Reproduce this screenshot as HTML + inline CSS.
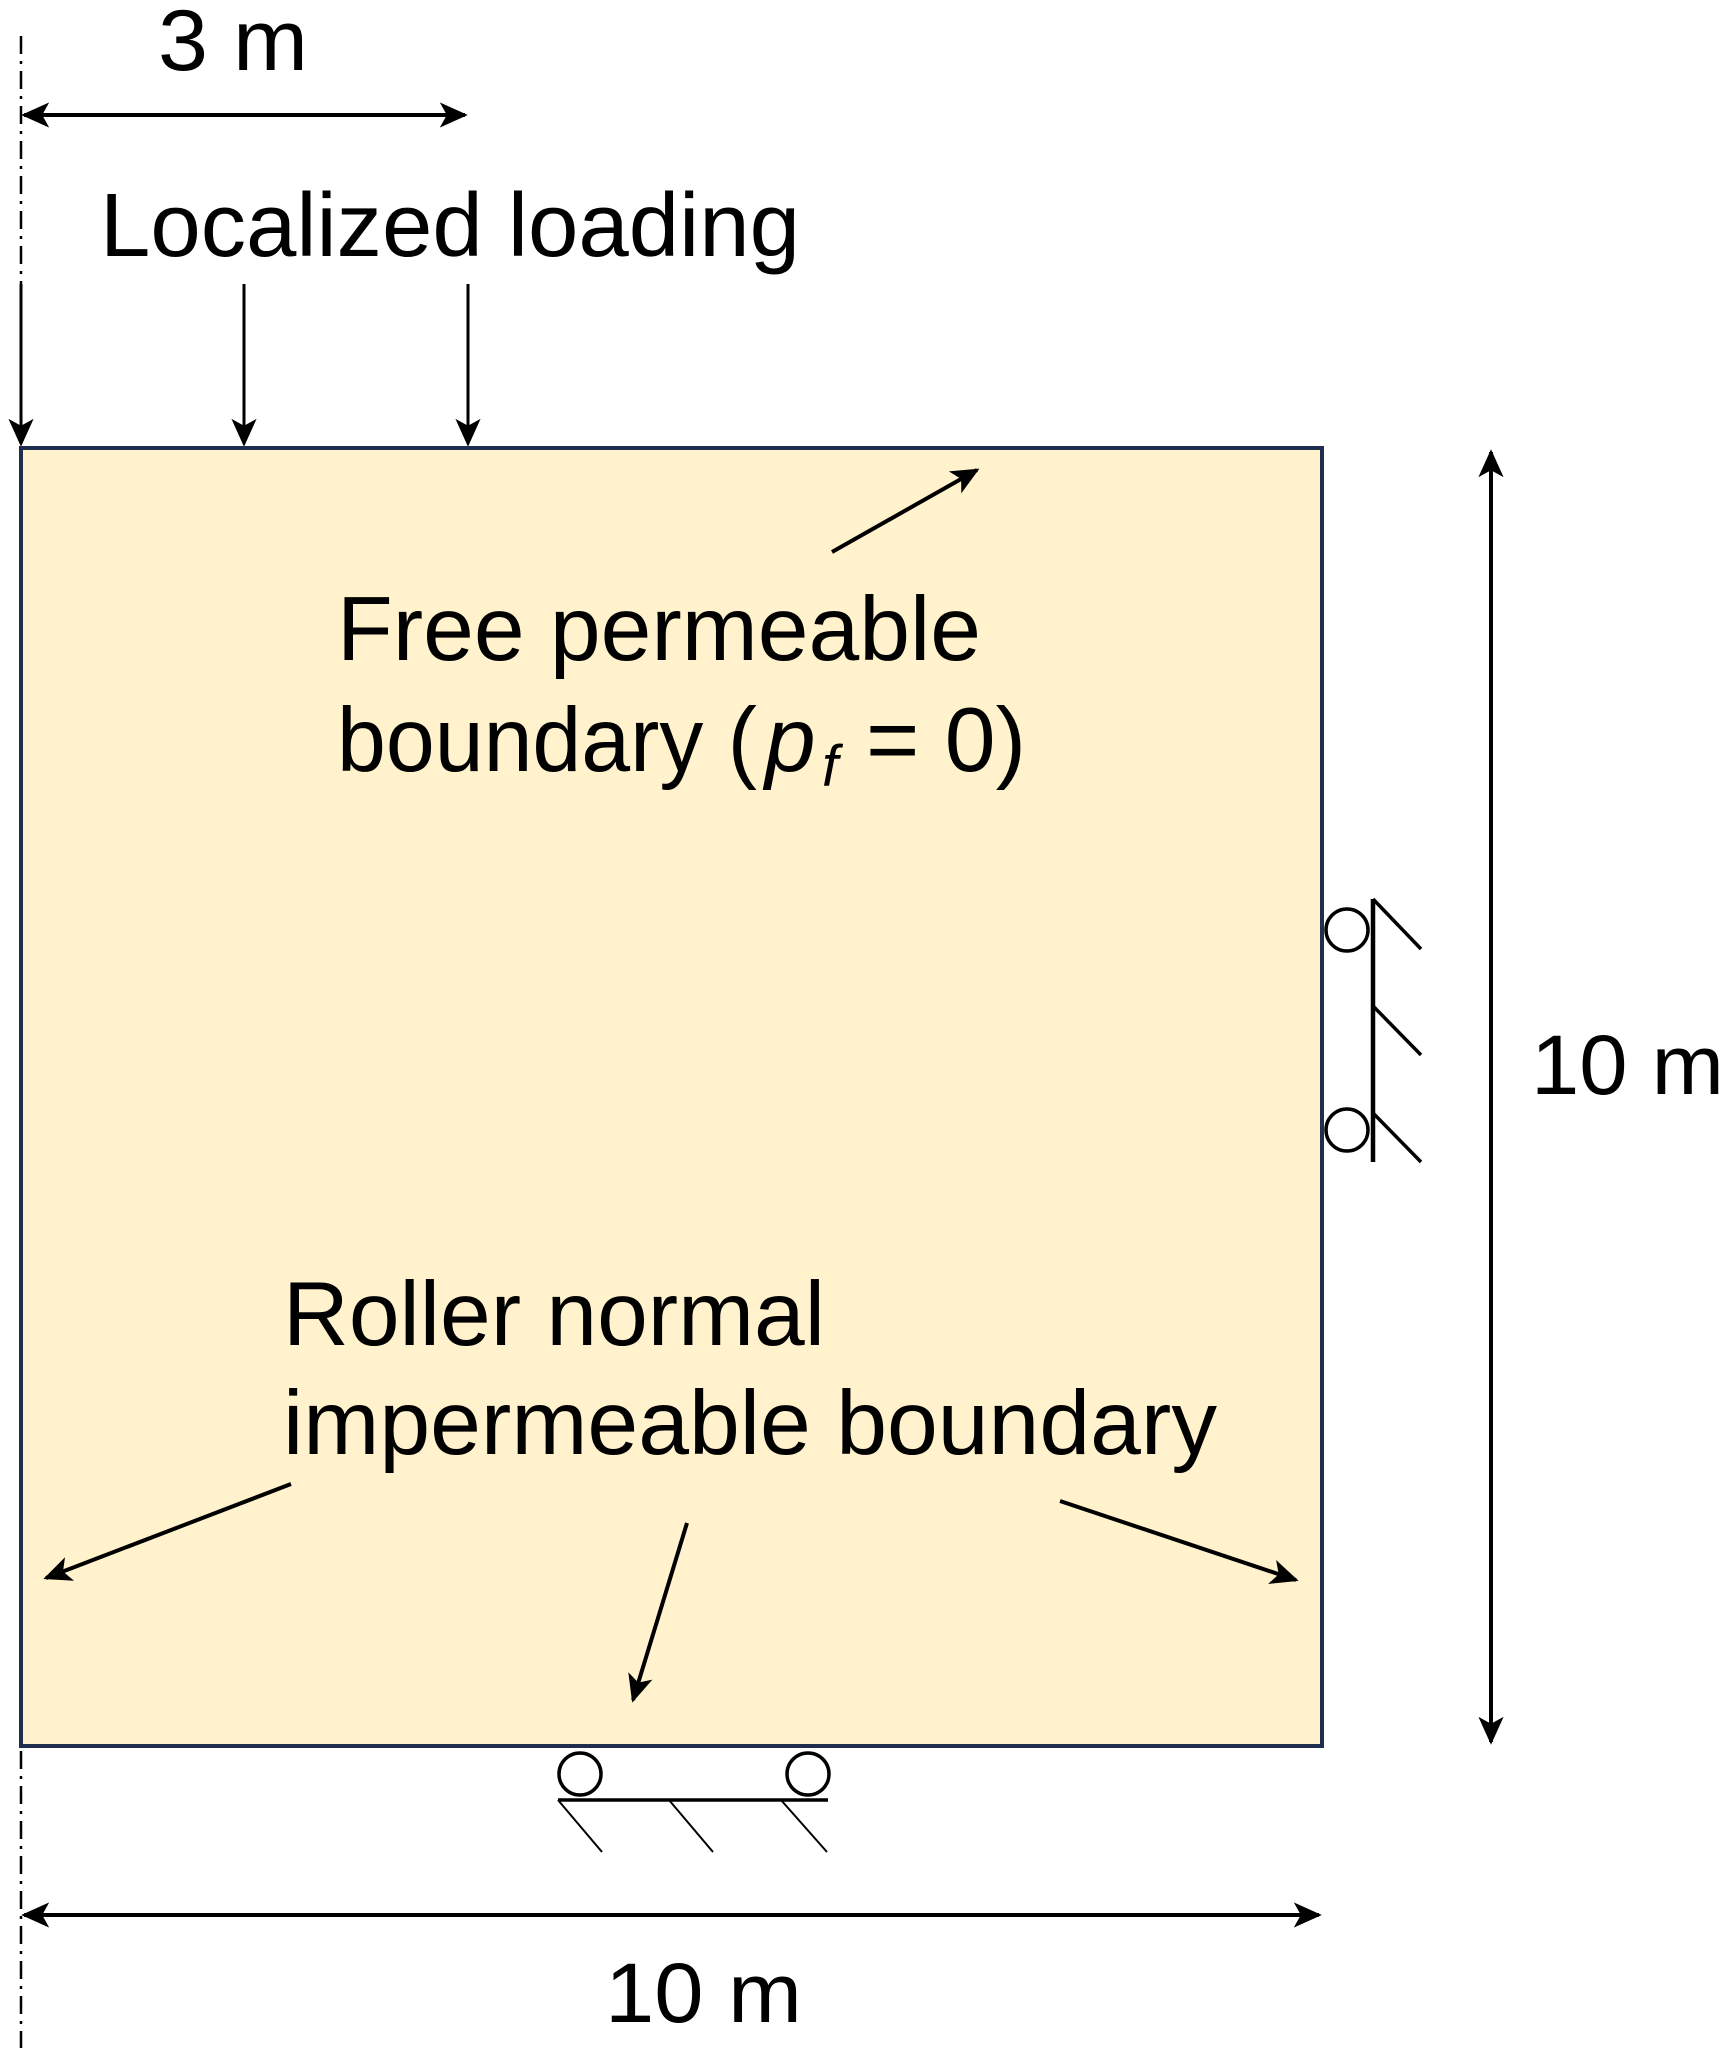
<!DOCTYPE html>
<html><head><meta charset="utf-8"><style>html,body{margin:0;padding:0;background:#fff}svg{display:block}</style></head>
<body>
<svg width="1736" height="2048" viewBox="0 0 1736 2048" xmlns="http://www.w3.org/2000/svg" font-family="Liberation Sans, Arial, sans-serif" fill="#000">
<defs>
<marker id="b" viewBox="0 0 20 20" refX="18" refY="10" markerWidth="28" markerHeight="28" markerUnits="userSpaceOnUse" orient="auto-start-reverse"><path d="M0,1 L20,10 L0,19 L5,10 Z" fill="#000"/></marker>
</defs>
<line x1="21" y1="36" x2="21" y2="2048" stroke="#000" stroke-width="2.5" stroke-dasharray="18,7,3,7"/>
<text x="158" y="70" font-size="86" textLength="150" lengthAdjust="spacingAndGlyphs">3 m</text>
<line x1="24" y1="115" x2="465" y2="115" stroke="#000" stroke-width="4" marker-start="url(#b)" marker-end="url(#b)"/>
<text x="100" y="256" font-size="90" textLength="700" lengthAdjust="spacingAndGlyphs">Localized loading</text>
<g stroke="#000" stroke-width="3">
<line x1="21" y1="284" x2="21" y2="444" marker-end="url(#b)"/>
<line x1="244" y1="284" x2="244" y2="444" marker-end="url(#b)"/>
<line x1="468" y1="284" x2="468" y2="444" marker-end="url(#b)"/>
</g>
<rect x="21" y="448" width="1301" height="1298" fill="#fff2cc" stroke="#1f2d4f" stroke-width="4"/>
<text x="337" y="660" font-size="91" textLength="644" lengthAdjust="spacingAndGlyphs">Free permeable</text>
<text x="337" y="771" font-size="91" textLength="420" lengthAdjust="spacingAndGlyphs">boundary (</text>
<text x="765" y="771" font-size="91" font-style="italic">p</text>
<text x="822" y="786" font-size="58" font-style="italic">f</text>
<text x="866" y="771" font-size="91" textLength="160" lengthAdjust="spacingAndGlyphs">= 0)</text>
<text x="283" y="1345" font-size="91" textLength="542" lengthAdjust="spacingAndGlyphs">Roller normal</text>
<text x="283" y="1454" font-size="91" textLength="934" lengthAdjust="spacingAndGlyphs">impermeable boundary</text>
<g stroke="#000" stroke-width="4">
<line x1="832" y1="552" x2="977" y2="470" marker-end="url(#b)"/>
<line x1="291" y1="1484" x2="46" y2="1578" marker-end="url(#b)"/>
<line x1="687" y1="1523" x2="633" y2="1700" marker-end="url(#b)"/>
<line x1="1060" y1="1501" x2="1296" y2="1580" marker-end="url(#b)"/>
<line x1="1491" y1="452" x2="1491" y2="1742" marker-start="url(#b)" marker-end="url(#b)"/>
<line x1="24" y1="1915" x2="1319" y2="1915" marker-start="url(#b)" marker-end="url(#b)"/>
</g>
<text x="1531" y="1094" font-size="84" textLength="193" lengthAdjust="spacingAndGlyphs">10 m</text>
<text x="605" y="2022" font-size="84" textLength="197" lengthAdjust="spacingAndGlyphs">10 m</text>
<g stroke="#000" stroke-width="3.5" fill="none">
<circle cx="1347" cy="930" r="21"/>
<circle cx="1347" cy="1130" r="21"/>
<line x1="1373" y1="899" x2="1373" y2="1162" stroke-width="4.5"/>
<line x1="1373" y1="899" x2="1421" y2="949"/>
<line x1="1373" y1="1006" x2="1421" y2="1055"/>
<line x1="1373" y1="1113" x2="1421" y2="1162"/>
<circle cx="580" cy="1774" r="21"/>
<circle cx="808" cy="1774" r="21"/>
<line x1="558" y1="1800" x2="828" y2="1800"/>
<line x1="558" y1="1800" x2="602" y2="1852" stroke-width="2"/>
<line x1="669" y1="1800" x2="713" y2="1852" stroke-width="2"/>
<line x1="781" y1="1800" x2="827" y2="1852" stroke-width="2"/>
</g>
</svg>
</body></html>
